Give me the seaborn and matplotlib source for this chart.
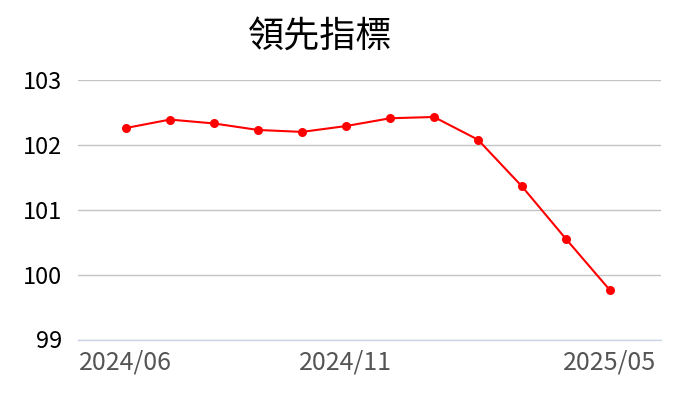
import matplotlib
matplotlib.use("Agg")
import matplotlib.pyplot as plt
import seaborn as sns
import pandas as pd

months = ["2024/06", "2024/07", "2024/08", "2024/09", "2024/10", "2024/11",
          "2024/12", "2025/01", "2025/02", "2025/03", "2025/04", "2025/05"]
values = [102.26, 102.39, 102.33, 102.23, 102.20, 102.29,
          102.41, 102.43, 102.08, 101.36, 100.55, 99.76]
tick_labels = ["2024/06", "2024/11", "2025/05"]
y_ticks = [99, 100, 101, 102, 103]
title = "領先指標"

sns.set_style("white")
plt.rcParams['font.family'] = ['Noto Sans CJK TC', 'DejaVu Sans']

df = pd.DataFrame({"idx": range(len(months)), "month": months, "value": values})

fig = plt.figure(figsize=(7, 4), dpi=100)
ax = fig.add_axes([78/700, 1 - 339.5/400, (661-78)/700, (339.5-80)/400])

sns.lineplot(data=df, x="idx", y="value", ax=ax, color="#ff0000", linewidth=1.5,
             marker="o", markersize=6.5, markeredgewidth=0, zorder=3)

ax.set_ylim(99, 103)
ax.set_xlim(-1.09, 12.16)
ax.set_yticks(y_ticks)
ax.set_yticklabels([str(v) for v in y_ticks], fontsize=17, color="#000000")
tick_pos = [months.index(t) for t in tick_labels]
ax.set_xticks(tick_pos)
ax.set_xticklabels(tick_labels, fontsize=18, color="#555555")
ax.yaxis.grid(True, color="#c4c4c4", linewidth=1)
ax.xaxis.grid(False)
for s in ["top", "right", "left"]:
    ax.spines[s].set_visible(False)
ax.spines["bottom"].set_color("#ccd6eb")
ax.spines["bottom"].set_linewidth(1)
ax.tick_params(axis="x", length=7.2, width=1, color="#ccd6eb", direction="out", pad=0)
ax.tick_params(axis="y", length=0, pad=11.5)
ax.set_xlabel("")
ax.set_ylabel("")

fig.text(320/700, 1 - 38/400, title, ha="center", va="center", fontsize=26, color="#000000")

fig.savefig("out.png", dpi=100)
